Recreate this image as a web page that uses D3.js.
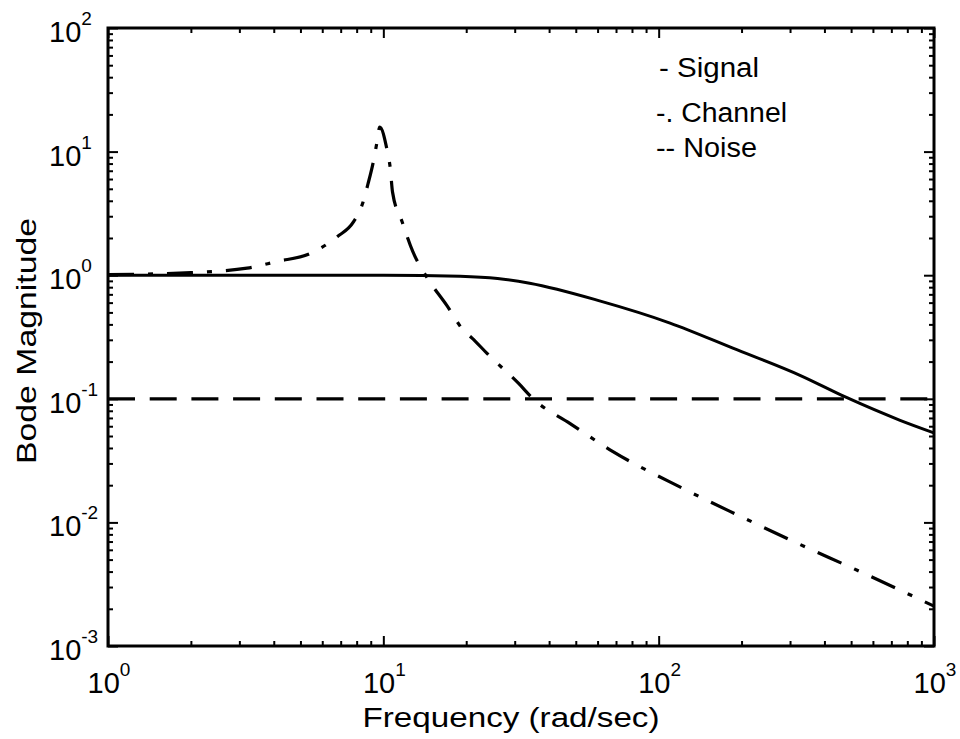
<!DOCTYPE html>
<html>
<head>
<meta charset="utf-8">
<script src="https://cdn.jsdelivr.net/npm/d3@7"></script>
<style>
  html, body { margin: 0; padding: 0; background: #fff; }
  svg { display: block; }
  text { font-family: "Liberation Sans", Arial, Helvetica, sans-serif; fill: #000; }
</style>
</head>
<body>
<svg id="chart" width="960" height="739"></svg>
<script>
// Bode magnitude of signal, channel and noise models
const signalFreq = [1, 2, 5, 10, 19, 26, 34, 61, 110, 186, 326, 483, 753, 1000];
const signalMag  = [1.0, 1.0, 1.0, 1.0, 0.98, 0.94, 0.86, 0.62, 0.41, 0.257, 0.155, 0.102, 0.067, 0.053];

const channelFreq = [1, 2, 3.2, 4.1, 5.4, 6.8, 7.8, 8.4, 8.8, 9.2, 9.5, 9.7, 10.3, 10.6, 10.8, 11.7, 12.8, 14.4, 17, 19.5, 21, 23.8, 31, 35, 47.7, 68, 122, 198, 318, 526, 868, 1000];
const channelMag  = [1.01, 1.05, 1.14, 1.29, 1.49, 2.05, 2.71, 3.78, 5.5, 8.3, 12.2, 15.8, 10.5, 7.3, 4.7, 2.71, 1.55, 0.96, 0.57, 0.36, 0.31, 0.233, 0.133, 0.1, 0.063, 0.0376, 0.0189, 0.0112, 0.0068, 0.0041, 0.00244, 0.0021];

const noiseFreq = [1, 1000];
const noiseMag  = [0.1, 0.1];

const xDecades = [0, 1, 2, 3];          // exponents of 10 on the frequency axis
const yDecades = [-3, -2, -1, 0, 1, 2]; // exponents of 10 on the magnitude axis

const legendLabels = ["- Signal", "-. Channel", "-- Noise"];
const xTitle = "Frequency (rad/sec)";
const yTitle = "Bode Magnitude";

const svg = d3.select("#chart");
const m = { left: 108, right: 934, top: 28, bottom: 646 };

const x = d3.scaleLog().domain([1, 1000]).range([m.left, m.right]);
const y = d3.scaleLog().domain([1e-3, 1e2]).range([m.bottom, m.top]);

// minor tick values 2..9 in each decade
function minors(lo, hi) {
  const out = [];
  for (let e = lo; e < hi; e++) for (let k = 2; k <= 9; k++) out.push(k * Math.pow(10, e));
  return out;
}
const xMajor = xDecades.map(e => Math.pow(10, e));
const yMajor = yDecades.map(e => Math.pow(10, e));
const xMinor = minors(0, 3);
const yMinor = minors(-3, 2);

const axisStyle = g => {
  g.select(".domain").remove();
  g.selectAll(".tick line").attr("stroke", "#000").attr("stroke-width", 2);
  g.selectAll(".tick text").remove();
};

// inward ticks on all four sides
svg.append("g").attr("transform", `translate(${m.left},0)`)
  .call(d3.axisLeft(y).tickValues(yMajor).tickSize(-10)).call(axisStyle);
svg.append("g").attr("transform", `translate(${m.left},0)`)
  .call(d3.axisLeft(y).tickValues(yMinor).tickSize(-5)).call(axisStyle);
svg.append("g").attr("transform", `translate(${m.right},0)`)
  .call(d3.axisRight(y).tickValues(yMajor).tickSize(-10)).call(axisStyle);
svg.append("g").attr("transform", `translate(${m.right},0)`)
  .call(d3.axisRight(y).tickValues(yMinor).tickSize(-5)).call(axisStyle);
svg.append("g").attr("transform", `translate(0,${m.bottom})`)
  .call(d3.axisBottom(x).tickValues(xMajor).tickSize(-10)).call(axisStyle);
svg.append("g").attr("transform", `translate(0,${m.bottom})`)
  .call(d3.axisBottom(x).tickValues(xMinor).tickSize(-5)).call(axisStyle);
svg.append("g").attr("transform", `translate(0,${m.top})`)
  .call(d3.axisTop(x).tickValues(xMajor).tickSize(-10)).call(axisStyle);
svg.append("g").attr("transform", `translate(0,${m.top})`)
  .call(d3.axisTop(x).tickValues(xMinor).tickSize(-5)).call(axisStyle);

// frame
svg.append("rect")
  .attr("x", m.left).attr("y", m.top)
  .attr("width", m.right - m.left).attr("height", m.bottom - m.top)
  .attr("fill", "none").attr("stroke", "#000").attr("stroke-width", 3);

// power-of-ten labels
function powerLabel(sel, e) {
  sel.append("tspan").attr("font-size", 29).text("10");
  sel.append("tspan").attr("font-size", 19).attr("dy", -17).text(String(e));
}
yDecades.forEach(e => {
  const t = svg.append("text")
    .attr("x", 49).attr("y", y(Math.pow(10, e)) + 14)
    .attr("text-anchor", "start");
  powerLabel(t, e);
});
xDecades.forEach(e => {
  const t = svg.append("text")
    .attr("x", x(Math.pow(10, e)) + 1).attr("y", 693)
    .attr("text-anchor", "middle");
  powerLabel(t, e);
});

// axis titles
svg.append("text")
  .attr("x", 511).attr("y", 727)
  .attr("text-anchor", "middle").attr("font-size", 27)
  .attr("textLength", 297).attr("lengthAdjust", "spacingAndGlyphs")
  .text(xTitle);
svg.append("text")
  .attr("transform", `translate(36,341) rotate(-90)`)
  .attr("text-anchor", "middle").attr("font-size", 28)
  .attr("textLength", 246).attr("lengthAdjust", "spacingAndGlyphs")
  .text(yTitle);

// curves
const line = d3.line()
  .x(d => x(d[0])).y(d => y(d[1]))
  .curve(d3.curveMonotoneX);

const plot = svg.append("g");
plot.append("path")
  .datum(d3.zip(noiseFreq, noiseMag))
  .attr("d", line)
  .attr("fill", "none").attr("stroke", "#000").attr("stroke-width", 3.2)
  .attr("stroke-dasharray", "27,14.7");

plot.append("path")
  .datum(d3.zip(signalFreq, signalMag))
  .attr("d", line)
  .attr("fill", "none").attr("stroke", "#000").attr("stroke-width", 3);

plot.append("path")
  .datum(d3.zip(channelFreq, channelMag))
  .attr("d", line)
  .attr("fill", "none").attr("stroke", "#000").attr("stroke-width", 3.2)
  .attr("stroke-dasharray", "26,14,5,14");

// legend text
const legendY = [77, 122, 157];
const legendX = [659, 656, 656];
const legendW = [100, 131, 101];
legendLabels.forEach((s, i) => {
  svg.append("text")
    .attr("x", legendX[i]).attr("y", legendY[i])
    .attr("font-size", 27)
    .attr("textLength", legendW[i]).attr("lengthAdjust", "spacingAndGlyphs")
    .text(s);
});
</script>
</body>
</html>
